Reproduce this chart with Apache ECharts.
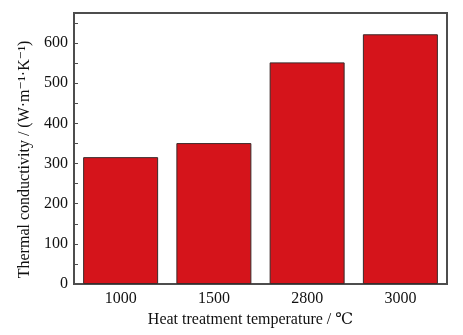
<!DOCTYPE html>
<html>
<head>
<meta charset="utf-8">
<script src="https://cdn.jsdelivr.net/npm/echarts@6/dist/echarts.min.js"></script>
<style>
html,body{margin:0;padding:0;background:#fff;}
#chart{width:463px;height:335px;}
</style>
</head>
<body>
<div id="chart"></div>
<script>
var categories = ['1000', '1500', '2800', '3000'];
var conductivity = [316, 351, 552, 622];
var yTicks = [0, 100, 200, 300, 400, 500, 600];

var FONT = '"Liberation Serif", "DejaVu Serif", serif';
var AXC = '#4d4d4d';
var TXT = '#111';
var chart = echarts.init(document.getElementById('chart'), null, {renderer: 'canvas'});
chart.setOption({
  animation: false,
  backgroundColor: '#ffffff',
  grid: {left: 74, right: 16, top: 13, bottom: 51, show: true, borderColor: AXC, borderWidth: 2, backgroundColor: 'transparent'},
  xAxis: {
    type: 'category',
    data: categories,
    boundaryGap: true,
    axisLine: {lineStyle: {color: AXC, width: 2}},
    axisTick: {show: false},
    axisLabel: {color: TXT, fontFamily: FONT, fontSize: 16, margin: 7},
    name: 'Heat treatment temperature / ℃',
    nameLocation: 'middle',
    nameGap: 27,
    nameTextStyle: {color: TXT, fontFamily: FONT, fontSize: 16, padding: [0, 20, 0, 0]}
  },
  yAxis: {
    type: 'value',
    min: 0,
    max: 675,
    interval: 50,
    axisLine: {show: true, lineStyle: {color: AXC, width: 2}},
    axisTick: {show: true, inside: true, length: 4, lineStyle: {color: AXC, width: 1}},
    splitLine: {show: false},
    axisLabel: {
      color: TXT, fontFamily: FONT, fontSize: 16, margin: 6, showMaxLabel: false,
      formatter: function (v) { return yTicks.indexOf(v) >= 0 ? String(v) : ''; }
    },
    name: 'Thermal conductivity / (W·m⁻¹·K⁻¹)',
    nameLocation: 'middle',
    nameGap: 35,
    nameTextStyle: {color: TXT, fontFamily: FONT, fontSize: 16, padding: [0, 22, 0, 0]}
  },
  series: [{
    type: 'bar',
    data: conductivity,
    barWidth: 75,
    itemStyle: {color: '#d5141b', borderColor: '#3a2a2a', borderWidth: 1}
  }]
});
</script>
</body>
</html>
